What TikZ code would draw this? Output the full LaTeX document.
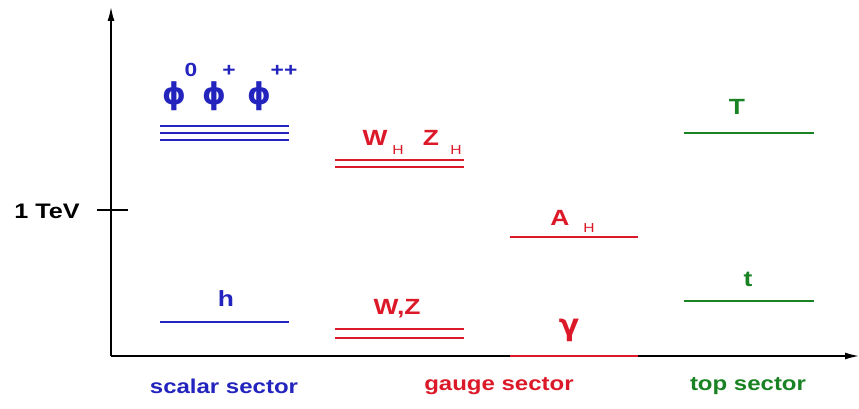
\documentclass[tikz,border=0pt]{standalone}
\usepackage{fontspec}
\usepackage{xcolor}
\usetikzlibrary{arrows.meta, positioning}

\newfontfamily\plotfont[FakeStretch=1.2]{Liberation Sans}
\newfontfamily\greekfont{DejaVu Sans}
\definecolor{scalarblue}{RGB}{35,35,190}
\definecolor{gaugered}{RGB}{220,25,40}
\definecolor{topgreen}{RGB}{25,130,35}

\begin{document}
\begin{tikzpicture}[
    x=1pt, y=-1pt,
    axis/.style={line width=1.5pt, -{Latex[length=14pt, width=7pt]}},
    level/.style={line width=1.5pt},
    lbl/.style={font=\plotfont\fontsize{22}{22}\bfseries, inner sep=0pt},
    greek/.style={font=\greekfont\fontsize{30}{30}\bfseries, inner sep=0pt},
    sup/.style={font=\plotfont\fontsize{19}{19}\bfseries, inner sep=0pt},
    sub/.style={font=\plotfont\fontsize{13}{13}\selectfont, inner sep=0pt},
    sector/.style={font=\plotfont\fontsize{20}{20}\bfseries, inner sep=0pt}
]
    \useasboundingbox (0,0) rectangle (859,409);

    % axes
    \coordinate (origin) at (111,356);
    \coordinate (ytop) at (111,7);
    \coordinate (xend) at (859,356);
    \draw[axis] (origin) -- (ytop);
    \draw[axis] (origin) -- (xend);
    \coordinate (tick-l) at (97,210);
    \coordinate (tick-r) at (128,210);
    \draw[line width=1.2pt] (tick-l) -- (tick-r);
    \node[lbl, font=\plotfont\fontsize{21}{21}\bfseries] (tev) at (47,211) {1 TeV};

    % scalar sector
    \begin{scope}[scalarblue]
    \foreach \y in {126,133,140}
        \draw[level] (160,\y) -- (289,\y);
    \node[greek] (phi0) at (174,96) {ϕ};
    \node[greek] (phi1) at (214,96) {ϕ};
    \node[greek] (phi2) at (259,96) {ϕ};
    \node[sup] (sup0) at (191,70) {0};
    \node[sup] (sup1) at (229,71) {+};
    \node[sup] (sup2) at (284,71) {++};
    \coordinate (h-l) at (160,322);
    \coordinate (h-r) at (289,322);
    \draw[level] (h-l) -- (h-r);
    \node[lbl] (h) at (226,299) {h};
    \node[sector] (scalar) at (224,386) {scalar sector};
    \end{scope}

    % gauge sector
    \begin{scope}[gaugered]
    \foreach \y in {160,167}
        \draw[level] (335,\y) -- (464,\y);
    \node[lbl] (wh) at (375,138) {W};
    \node[sub] (wh-sub) at (398,150) {H};
    \node[lbl] (zh) at (431,138) {Z};
    \node[sub] (zh-sub) at (456,150) {H};
    \foreach \y in {329,338}
        \draw[level] (335,\y) -- (464,\y);
    \node[lbl] (wz) at (397,309) {W,Z};
    \coordinate (ah-l) at (510,237);
    \coordinate (ah-r) at (638,237);
    \draw[level] (ah-l) -- (ah-r);
    \node[lbl] (ah) at (560,218) {A};
    \node[sub] (ah-sub) at (589,228) {H};
    \coordinate (gam-l) at (510,356);
    \coordinate (gam-r) at (638,356);
    \draw[level] (gam-l) -- (gam-r);
    \node[greek] (gamma) at (569,330) {γ};
    \node[sector] (gauge) at (499,386) {gauge sector};
    \end{scope}

    % top sector
    \begin{scope}[topgreen]
    \coordinate (bigt-l) at (684,133);
    \coordinate (bigt-r) at (814,133);
    \draw[level] (bigt-l) -- (bigt-r);
    \node[lbl] (bigt) at (737,107) {T};
    \coordinate (t-l) at (684,301);
    \coordinate (t-r) at (814,301);
    \draw[level] (t-l) -- (t-r);
    \node[lbl] (t) at (748,279) {t};
    \node[sector] (top) at (748,386) {top sector};
    \end{scope}
\end{tikzpicture}
\end{document}
